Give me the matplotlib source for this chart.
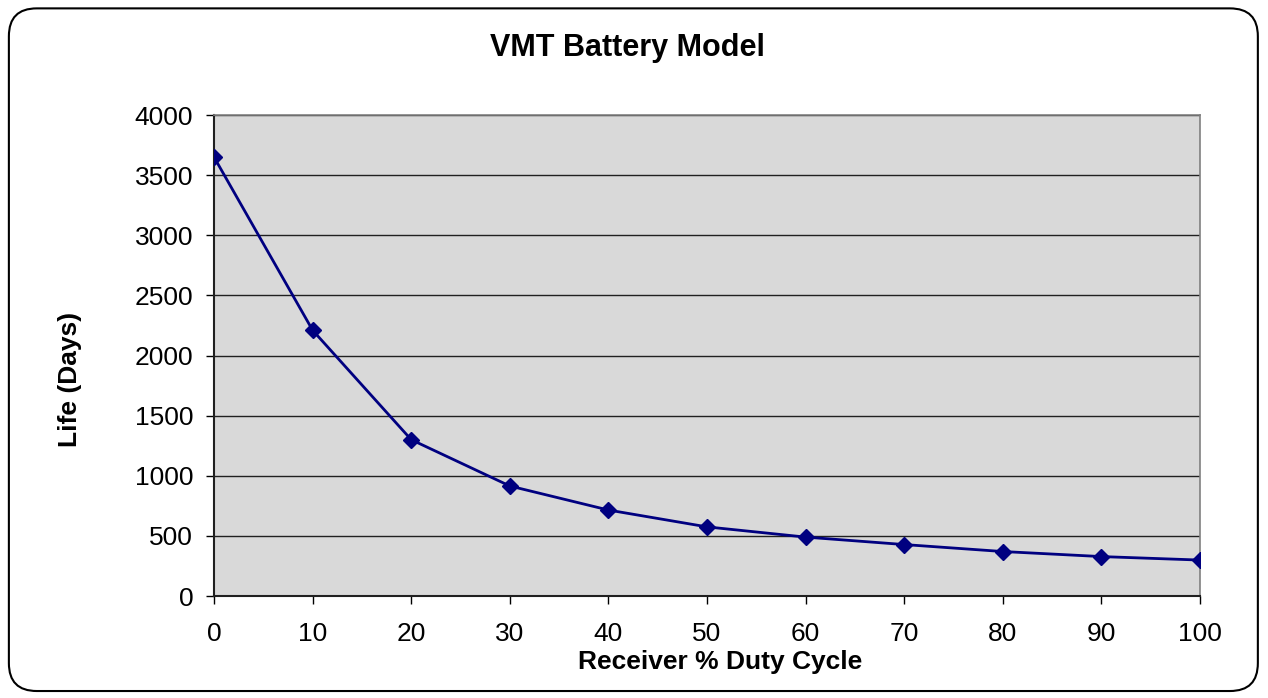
import matplotlib.pyplot as plt
from matplotlib.patches import FancyBboxPatch

plt.rcParams['font.family'] = ['Liberation Sans', 'DejaVu Sans']

# -------------------------
# DATA
# -------------------------
duty_cycle = [0, 10, 20, 30, 40, 50, 60, 70, 80, 90, 100]
life_days = [3650, 2210, 1300, 915, 715, 575, 490, 428, 370, 328, 299]
x_ticks = [0, 10, 20, 30, 40, 50, 60, 70, 80, 90, 100]
y_ticks = [0, 500, 1000, 1500, 2000, 2500, 3000, 3500, 4000]

# -------------------------
# PLOT
# -------------------------
fig = plt.figure(figsize=(12.68, 6.98), dpi=100, facecolor='w')

# rounded outer frame, behind everything
frame = FancyBboxPatch((0.007, 0.01), 0.985, 0.978, boxstyle='round,pad=0,rounding_size=0.022',
                       transform=fig.transFigure, facecolor='none', edgecolor='black',
                       linewidth=1.5, mutation_aspect=1268 / 698, zorder=-1)
fig.patches.append(frame)

ax = fig.add_axes([0.1688, 0.1461, 0.7776, 0.6891])
ax.set_facecolor('#d9d9d9')
ax.plot(duty_cycle, life_days, color='#000080', marker='D', markersize=8, linewidth=2, zorder=3)

ax.set_xlim(0, 100)
ax.set_ylim(0, 4000)
ax.set_xticks(x_ticks)
ax.set_yticks(y_ticks)
ax.tick_params(axis='both', direction='out', length=6, width=1, labelsize=19, color='black')
ax.tick_params(axis='x', pad=13)
ax.tick_params(axis='y', pad=9)
ax.grid(axis='y', color='#202020', linewidth=1)
ax.set_axisbelow(True)

for side in ['top', 'right']:
    ax.spines[side].set_color('#808080')
    ax.spines[side].set_linewidth(1.2)
for side in ['left', 'bottom']:
    ax.spines[side].set_color('#202020')
    ax.spines[side].set_linewidth(1.5)

fig.text(0.4945, 0.931, 'VMT Battery Model', fontsize=22, fontweight='bold', ha='center', va='center')
ax.set_xlabel('Receiver % Duty Cycle', fontsize=19, fontweight='bold')
ax.set_ylabel('Life (Days)', fontsize=19, fontweight='bold')
ax.xaxis.set_label_coords(0.513, -0.113)
ax.yaxis.set_label_coords(-0.134, 0.451)

fig.savefig('out.png', dpi=100)
